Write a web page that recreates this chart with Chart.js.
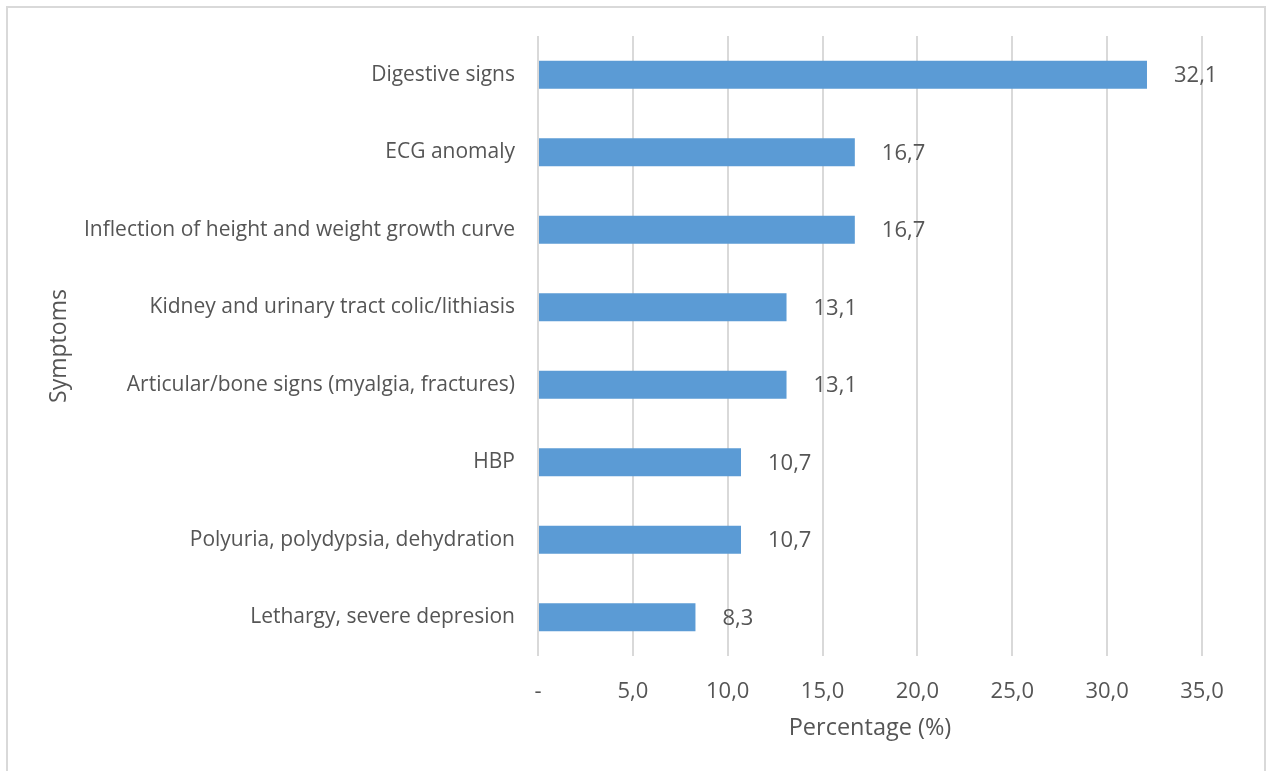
<!DOCTYPE html>
<html>
<head>
<meta charset="utf-8">
<script src="https://cdn.jsdelivr.net/npm/chart.js@4/dist/chart.umd.min.js"></script>
<style>
  html, body { margin: 0; padding: 0; background: #fff; }
  #wrap { position: relative; width: 1266px; height: 771px; overflow: hidden; }
  #frame {
    position: absolute; left: 6px; top: 6px; width: 1256px; height: 800px;
    border: 2px solid #d9d9d9; pointer-events: none;
  }
</style>
</head>
<body>
<div id="wrap">
  <canvas id="chart" width="1266" height="771"></canvas>
  <div id="frame"></div>
</div>
<script>
// data
const symptoms = [
  'Digestive signs',
  'ECG anomaly',
  'Inflection of height and weight growth curve',
  'Kidney and urinary tract colic/lithiasis',
  'Articular/bone signs (myalgia, fractures)',
  'HBP',
  'Polyuria, polydypsia, dehydration',
  'Lethargy, severe depresion'
];
const percentages = [32.1, 16.7, 16.7, 13.1, 13.1, 10.7, 10.7, 8.3];
const xTicks = [0, 5, 10, 15, 20, 25, 30, 35];

const textColor = '#555555';
const fontFamily = '"Open Sans", "Liberation Sans", sans-serif';

const fmt = v => v.toFixed(1).replace('.', ',');

// value labels at the end of each bar
const barLabels = {
  id: 'barLabels',
  afterDatasetsDraw(chart) {
    const ctx = chart.ctx;
    const meta = chart.getDatasetMeta(0);
    ctx.save();
    ctx.font = '22px ' + fontFamily;
    ctx.fillStyle = textColor;
    ctx.textAlign = 'left';
    ctx.textBaseline = 'middle';
    meta.data.forEach((bar, i) => {
      ctx.fillText(fmt(percentages[i]), bar.x + 27, bar.y + 1);
    });
    ctx.restore();
  }
};

const ctx = document.getElementById('chart').getContext('2d');
const chart = new Chart(ctx, {
  type: 'bar',
  data: {
    labels: symptoms,
    datasets: [{
      data: percentages,
      backgroundColor: '#5b9bd5',
      barPercentage: 0.36,
      categoryPercentage: 1.0
    }]
  },
  options: {
    indexAxis: 'y',
    responsive: false,
    animation: false,
    layout: { padding: { top: 36, right: 64, left: 0, bottom: 0 } },
    plugins: {
      legend: { display: false },
      tooltip: { enabled: false }
    },
    scales: {
      x: {
        min: 0,
        max: 35,
        afterBuildTicks: scale => { scale.ticks = xTicks.map(v => ({ value: v })); },
        afterFit: scale => { scale.height = 115; },
        grid: { color: '#d9d9d9', lineWidth: 2, drawTicks: false },
        border: { display: false },
        ticks: {
          padding: 23,
          color: textColor,
          font: { family: fontFamily, size: 22 },
          callback: v => (v === 0 ? '-' : fmt(v))
        },
        title: {
          display: true,
          text: 'Percentage (%)',
          color: textColor,
          font: { family: fontFamily, size: 23.5 },
          padding: { top: 0, bottom: 29 }
        }
      },
      y: {
        afterFit: scale => { scale.width = 538; },
        grid: { display: false, drawTicks: false },
        border: { display: false },
        ticks: {
          padding: 23,
          color: textColor,
          font: { family: fontFamily, size: 21 }
        },
        title: {
          display: true,
          text: 'Symptoms',
          color: textColor,
          font: { family: fontFamily, size: 23 },
          padding: { top: 46, bottom: 0 }
        }
      }
    }
  },
  plugins: [barLabels]
});
</script>
</body>
</html>
